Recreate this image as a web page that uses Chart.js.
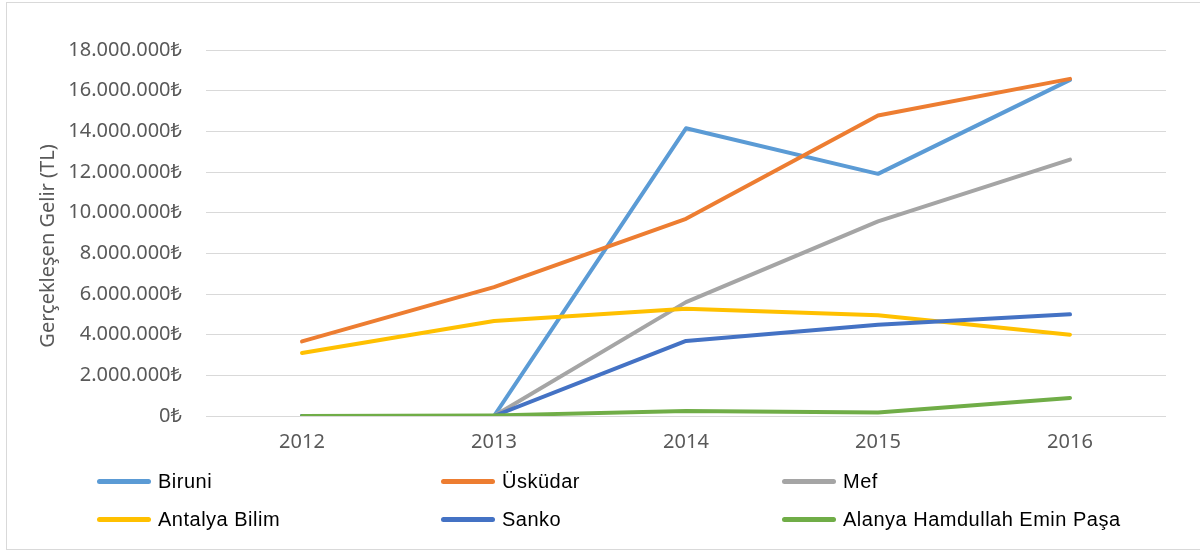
<!DOCTYPE html>
<html>
<head>
<meta charset="utf-8">
<script src="https://cdn.jsdelivr.net/npm/chart.js@4.4.1/dist/chart.umd.min.js"></script>
<style>
  html, body { margin:0; padding:0; background:#fff; width:1200px; height:552px; overflow:hidden; }
  #frame { position:absolute; left:6px; top:2px; width:1250px; height:548px; border:1px solid #d9d9d9; box-sizing:border-box; }
  #wrap { position:absolute; left:0; top:0; width:1200px; height:552px; }
  #legend { position:absolute; left:0; top:0; width:1200px; height:552px; pointer-events:none;
            font-family:"Liberation Sans", Arial, sans-serif; font-size:20px; letter-spacing:0.5px; color:#000; }
  .lg-item { position:absolute; display:flex; align-items:center; white-space:nowrap; }
  .lg-line { width:54px; height:5px; border-radius:3px; margin-right:7px; }
</style>
</head>
<body>
<div id="frame"></div>
<div id="wrap"><canvas id="chart" width="1200" height="552"></canvas></div>
<div id="legend"></div>
<script>
// ── Data ──────────────────────────────────────────────────
const years       = ['2012', '2013', '2014', '2015', '2016'];
const seriesNames = ['Biruni', 'Üsküdar', 'Mef', 'Antalya Bilim', 'Sanko', 'Alanya Hamdullah Emin Paşa'];
const biruni      = [0, 0, 14150000, 11910000, 16530000];
const uskudar     = [3670000, 6340000, 9700000, 14780000, 16580000];
const mef         = [0, 0, 5600000, 9570000, 12610000];
const antalya     = [3100000, 4670000, 5280000, 4950000, 4000000];
const sanko       = [0, 0, 3690000, 4490000, 5000000];
const alanya      = [0, 30000, 250000, 170000, 890000];
const yTicksMax   = 18000000;
const yTickStep   = 2000000;

const colors = ['#5b9bd5', '#ed7d31', '#a5a5a5', '#ffc000', '#4472c4', '#70ad47'];
const values = [biruni, uskudar, mef, antalya, sanko, alanya];
const GRID = '#d9d9d9', TICK = '#595959';

const fmtTL = v => String(v).replace(/\B(?=(\d{3})+(?!\d))/g, '.') + '₺';

const datasets = seriesNames.map((name, i) => ({
  label: name,
  data: values[i],
  borderColor: colors[i],
  backgroundColor: colors[i],
  borderWidth: 4,
  borderCapStyle: 'round',
  borderJoinStyle: 'round',
  pointRadius: 0,
  tension: 0,
  order: seriesNames.length - 1 - i   // later series on top, like Excel
}));

const chart = new Chart(document.getElementById('chart').getContext('2d'), {
  type: 'line',
  data: { labels: years, datasets },
  options: {
    responsive: false,
    animation: false,
    layout: { padding: { left: 36, right: 34, top: 50, bottom: 0 } },
    plugins: { legend: { display: false }, tooltip: { enabled: false } },
    scales: {
      x: {
        offset: true,
        grid: { display: false, drawTicks: false },
        border: { display: false },
        ticks: { color: TICK, padding: 14, font: { family: 'Noto Sans', size: 20 } },
        afterFit: s => { s.height = 136; }
      },
      y: {
        min: 0, max: yTicksMax,
        ticks: { stepSize: yTickStep, color: TICK, padding: 24, callback: fmtTL,
                 font: { family: 'Noto Sans', size: 20 } },
        grid: { color: GRID, lineWidth: 1, drawTicks: false },
        border: { display: false },
        // trailing spaces nudge the rotated title down a little, as in the source
        title: { display: true, text: 'Gerçekleşen Gelir (TL)     ', color: TICK,
                 font: { family: 'Noto Sans', size: 20 }, padding: { top: 0, bottom: 0 } },
        afterFit: s => { s.width = 170; }
      }
    }
  }
});

// ── Legend (3 columns x 2 rows, built from the chart's datasets) ──
const legendCols = [97, 441, 782];
const legendRows = [481, 519];
document.getElementById('legend').innerHTML = chart.data.datasets.map((d, i) => {
  const x = legendCols[i % 3], y = legendRows[Math.floor(i / 3)];
  return `<div class="lg-item" style="left:${x}px;top:${y - 12}px;height:24px">
    <span class="lg-line" style="background:${d.borderColor}"></span><span>${d.label}</span></div>`;
}).join('');
</script>
</body>
</html>
